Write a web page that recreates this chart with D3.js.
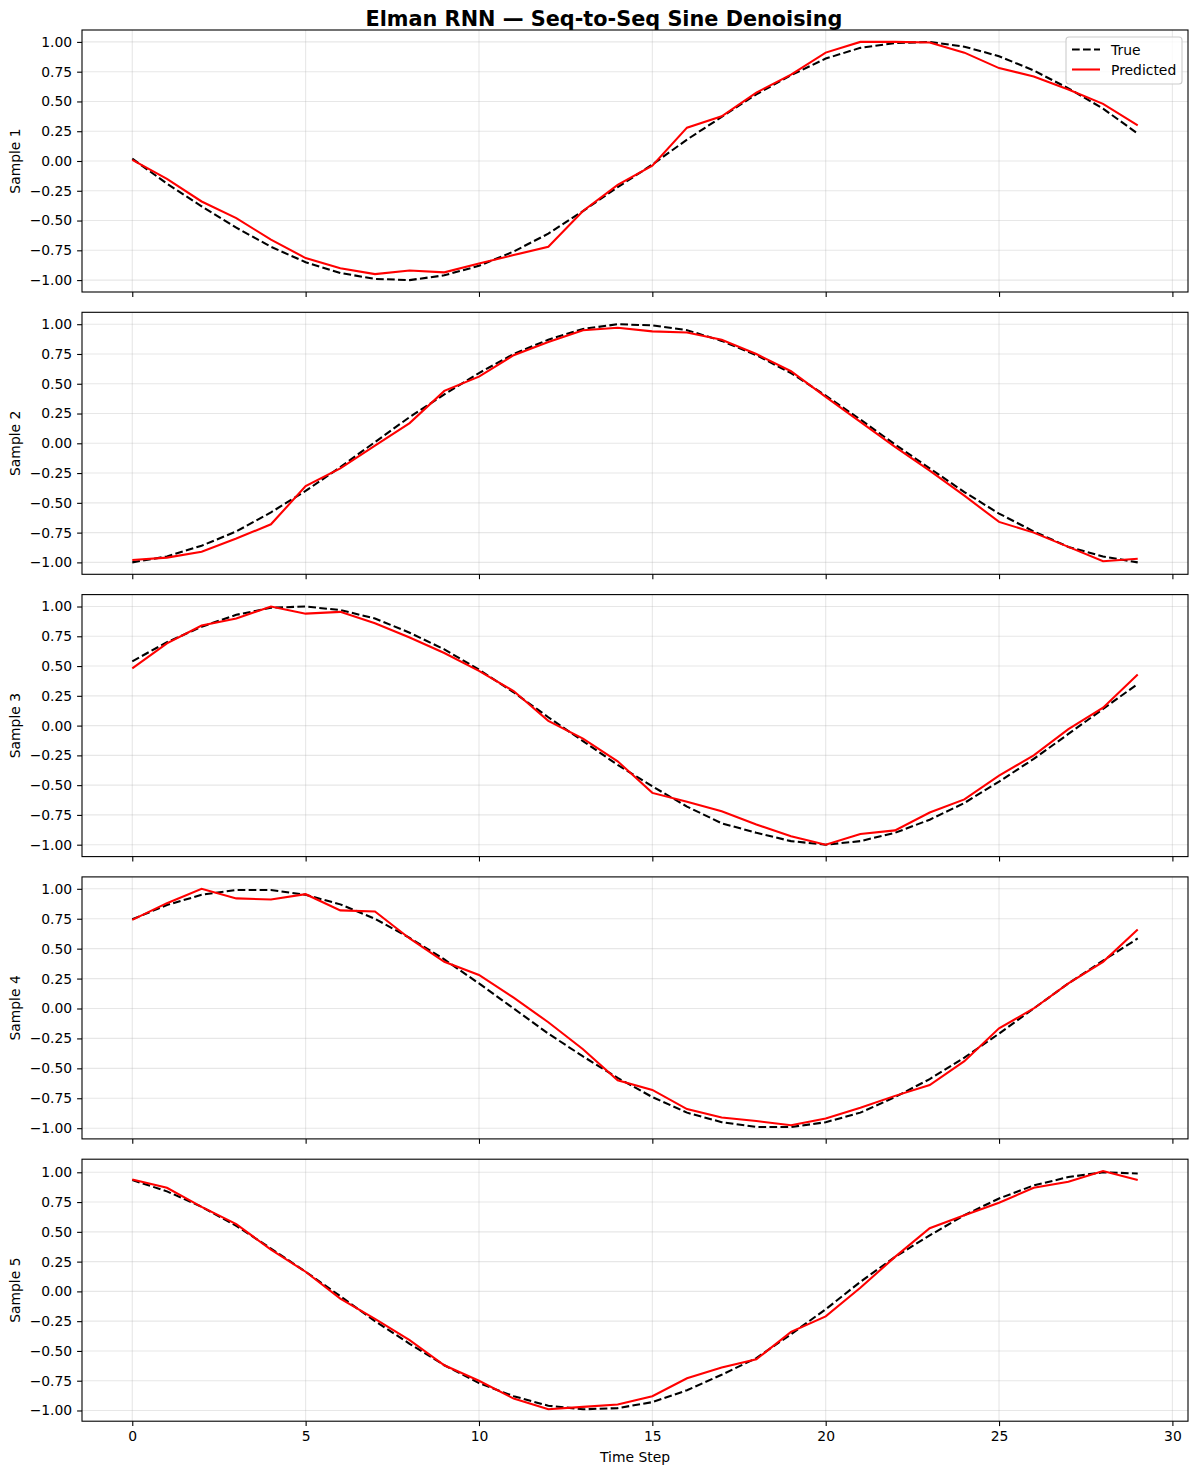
<!DOCTYPE html>
<html>
<head>
<meta charset="utf-8">
<script src="https://cdn.jsdelivr.net/npm/d3@7"></script>
<style>
body { margin: 0; background: white; }
</style>
</head>
<body>
<div class="chart-div"></div>
<script>
//--------------------------- Data

var steps = [0,1,2,3,4,5,6,7,8,9,10,11,12,13,14,15,16,17,18,19,20,21,22,23,24,25,26,27,28,29];

var sampleNames = ["Sample 1", "Sample 2", "Sample 3", "Sample 4", "Sample 5"];

var true1 = [0.02,-0.19,-0.38,-0.56,-0.72,-0.85,-0.94,-0.99,-1.0,-0.96,-0.88,-0.76,-0.61,-0.42,-0.22,-0.03,0.18,0.37,0.56,0.72,0.86,0.95,0.99,1.0,0.96,0.88,0.76,0.61,0.44,0.23];
var pred1 = [0.01,-0.15,-0.34,-0.48,-0.66,-0.815,-0.90,-0.95,-0.92,-0.935,-0.86,-0.79,-0.72,-0.42,-0.20,-0.04,0.28,0.375,0.575,0.725,0.91,1.0,1.0,0.995,0.91,0.78,0.71,0.60,0.48,0.30];

var true2 = [-1.0,-0.95,-0.86,-0.74,-0.58,-0.40,-0.20,0.01,0.22,0.41,0.59,0.75,0.87,0.96,1.0,0.99,0.95,0.86,0.74,0.59,0.40,0.20,-0.01,-0.21,-0.41,-0.59,-0.74,-0.87,-0.95,-1.0];
var pred2 = [-0.98,-0.96,-0.91,-0.80,-0.68,-0.36,-0.21,-0.02,0.17,0.44,0.56,0.74,0.85,0.95,0.97,0.94,0.93,0.87,0.75,0.605,0.39,0.18,-0.03,-0.23,-0.44,-0.66,-0.75,-0.87,-0.99,-0.97];

var true3 = [0.54,0.70,0.83,0.93,0.99,1.0,0.97,0.90,0.78,0.64,0.47,0.28,0.07,-0.13,-0.33,-0.51,-0.68,-0.82,-0.90,-0.97,-1.0,-0.97,-0.90,-0.79,-0.65,-0.47,-0.28,-0.07,0.14,0.35];
var pred3 = [0.48,0.69,0.84,0.90,1.0,0.94,0.955,0.86,0.74,0.61,0.46,0.29,0.04,-0.11,-0.30,-0.565,-0.64,-0.72,-0.83,-0.93,-1.0,-0.91,-0.88,-0.73,-0.62,-0.42,-0.25,-0.03,0.15,0.43];

var true4 = [0.745,0.865,0.95,0.99,0.99,0.95,0.87,0.75,0.59,0.41,0.21,0.0,-0.21,-0.40,-0.58,-0.74,-0.87,-0.95,-0.99,-0.99,-0.95,-0.87,-0.74,-0.59,-0.41,-0.21,0.0,0.21,0.40,0.585];
var pred4 = [0.74,0.88,1.0,0.92,0.91,0.955,0.82,0.81,0.585,0.39,0.28,0.09,-0.115,-0.34,-0.60,-0.68,-0.84,-0.91,-0.94,-0.975,-0.92,-0.83,-0.73,-0.64,-0.44,-0.165,0.0,0.21,0.39,0.66];

var true5 = [0.935,0.84,0.71,0.55,0.36,0.165,-0.04,-0.25,-0.44,-0.62,-0.77,-0.88,-0.96,-0.99,-0.98,-0.93,-0.83,-0.70,-0.56,-0.36,-0.15,0.08,0.29,0.47,0.64,0.78,0.89,0.96,1.0,0.99];
var pred5 = [0.94,0.87,0.71,0.565,0.35,0.165,-0.06,-0.23,-0.41,-0.62,-0.75,-0.90,-0.99,-0.97,-0.95,-0.88,-0.73,-0.64,-0.57,-0.34,-0.21,0.03,0.29,0.53,0.64,0.745,0.87,0.92,1.01,0.935];

var trueSeries = [true1, true2, true3, true4, true5];
var predSeries = [pred1, pred2, pred3, pred4, pred5];

var xTickValues = [0, 5, 10, 15, 20, 25, 30];
var yTickValues = [-1.0, -0.75, -0.5, -0.25, 0.0, 0.25, 0.5, 0.75, 1.0];
var legendLabels = ["True", "Predicted"];

//--------------------------- SVG definition

var width = 1198;
var height = 1475;

var svg = d3.select("div.chart-div")
    .append("svg")
    .attr("width", width)
    .attr("height", height)
    .style("font-family", "'DejaVu Sans', sans-serif");

svg.append("rect")
    .attr("width", width)
    .attr("height", height)
    .attr("fill", "white");

//--------------------------- Layout constants

var axLeft = 82, axRight = 1188;
var panelTop = 30, panelHeight = 262, panelPitch = 282.3;
var tickSize = 4.9;
var labelSize = 13.9;

var xPad = (d3.max(steps) - d3.min(steps)) * 0.05;
var x = d3.scaleLinear()
    .domain([d3.min(steps) - xPad, d3.max(steps) + xPad])
    .range([axLeft, axRight]);

var lineFor = function (y) {
    return d3.line()
        .x(function (d, i) { return x(steps[i]); })
        .y(function (d) { return y(d); });
};

//--------------------------- Title

svg.append("text")
    .attr("x", 604)
    .attr("y", 26)
    .attr("text-anchor", "middle")
    .attr("font-size", 20.8)
    .attr("font-weight", "bold")
    .text("Elman RNN \u2014 Seq-to-Seq Sine Denoising");

//--------------------------- Panels

for (var k = 0; k < sampleNames.length; k++) {

    var py0 = panelTop + k * panelPitch;
    var py1 = py0 + panelHeight;

    var all = trueSeries[k].concat(predSeries[k]);
    var lo = d3.min(all), hi = d3.max(all);
    var yPad = (hi - lo) * 0.05;

    var y = d3.scaleLinear()
        .domain([lo - yPad, hi + yPad])
        .range([py1, py0]);

    var g = svg.append("g");

    // grid
    g.selectAll("line.gx").data(xTickValues).enter()
        .append("line")
        .attr("x1", function (d) { return x(d); })
        .attr("x2", function (d) { return x(d); })
        .attr("y1", py0)
        .attr("y2", py1)
        .attr("stroke", "#b0b0b0")
        .attr("stroke-opacity", 0.3)
        .attr("stroke-width", 1.1);

    g.selectAll("line.gy").data(yTickValues).enter()
        .append("line")
        .attr("x1", axLeft)
        .attr("x2", axRight)
        .attr("y1", function (d) { return y(d); })
        .attr("y2", function (d) { return y(d); })
        .attr("stroke", "#b0b0b0")
        .attr("stroke-opacity", 0.3)
        .attr("stroke-width", 1.1);

    // series
    g.append("path")
        .datum(trueSeries[k])
        .attr("d", lineFor(y))
        .attr("fill", "none")
        .attr("stroke", "black")
        .attr("stroke-width", 2.08)
        .attr("stroke-dasharray", "7.7,3.3");

    g.append("path")
        .datum(predSeries[k])
        .attr("d", lineFor(y))
        .attr("fill", "none")
        .attr("stroke", "red")
        .attr("stroke-width", 2.08);

    // frame
    g.append("rect")
        .attr("x", axLeft)
        .attr("y", py0)
        .attr("width", axRight - axLeft)
        .attr("height", panelHeight)
        .attr("fill", "none")
        .attr("stroke", "black")
        .attr("stroke-width", 1.1);

    // axes
    var yAxis = g.append("g")
        .attr("transform", "translate(" + axLeft + ",0)")
        .call(d3.axisLeft(y).tickValues(yTickValues).tickSize(tickSize).tickPadding(4.9).tickFormat(d3.format(".2f")));

    var xAxis = g.append("g")
        .attr("transform", "translate(0," + py1 + ")")
        .call(d3.axisBottom(x).tickValues(xTickValues).tickSize(tickSize).tickPadding(4.9)
            .tickFormat(k == sampleNames.length - 1 ? d3.format("d") : function () { return ""; }));

    [yAxis, xAxis].forEach(function (a) {
        a.select(".domain").remove();
        a.selectAll(".tick line").attr("stroke", "black").attr("stroke-width", 1.1);
        a.selectAll(".tick text")
            .attr("fill", "black")
            .attr("font-size", labelSize)
            .attr("font-family", "'DejaVu Sans', sans-serif");
    });

    // y label
    g.append("text")
        .attr("transform", "translate(20," + (py0 + panelHeight / 2) + ") rotate(-90)")
        .attr("text-anchor", "middle")
        .attr("font-size", labelSize)
        .text(sampleNames[k]);

    //--------------------------- Legend in the first panel

    if (k == 0) {
        var lx = axRight - 122, ly = py0 + 7;
        var legend = g.append("g");

        legend.append("rect")
            .attr("x", lx)
            .attr("y", ly)
            .attr("width", 116)
            .attr("height", 47)
            .attr("rx", 3)
            .attr("fill", "white")
            .attr("fill-opacity", 0.8)
            .attr("stroke", "#cccccc")
            .attr("stroke-width", 1.1);

        legendLabels.forEach(function (label, j) {
            var ry = ly + 12.5 + j * 20;
            legend.append("line")
                .attr("x1", lx + 6)
                .attr("x2", lx + 34)
                .attr("y1", ry)
                .attr("y2", ry)
                .attr("stroke", j == 0 ? "black" : "red")
                .attr("stroke-width", 2.08)
                .attr("stroke-dasharray", j == 0 ? "7.7,3.3" : null);
            legend.append("text")
                .attr("x", lx + 45)
                .attr("y", ry + 5)
                .attr("font-size", labelSize)
                .text(label);
        });
    }
}

//--------------------------- X label

svg.append("text")
    .attr("x", (axLeft + axRight) / 2)
    .attr("y", 1462)
    .attr("text-anchor", "middle")
    .attr("font-size", labelSize)
    .text("Time Step");
</script>
</body>
</html>
